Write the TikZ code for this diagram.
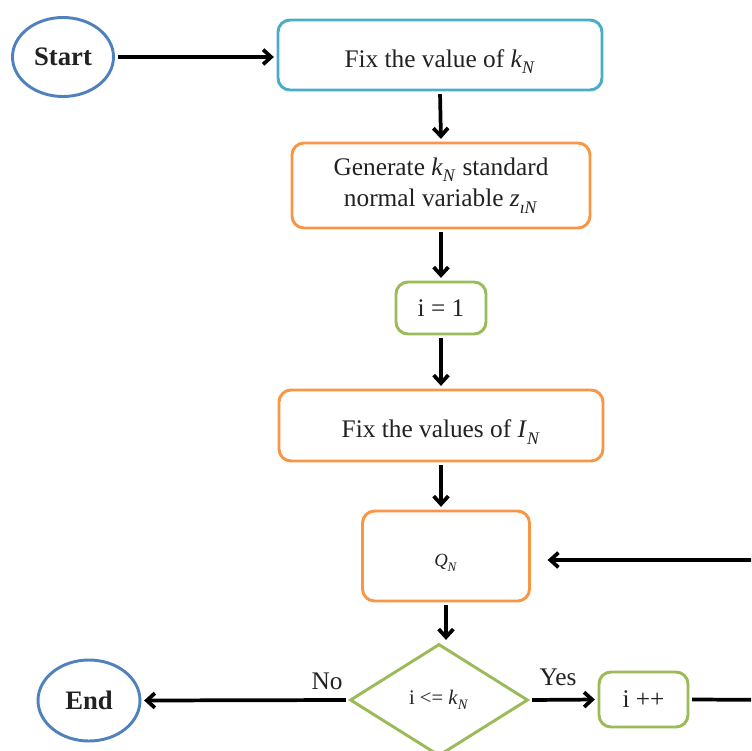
\documentclass[tikz,border=0pt]{standalone}
\usepackage{fontspec}
\setmainfont{Liberation Serif}
\usetikzlibrary{shapes.geometric,arrows.meta}
\def\pxu{0.75pt}
\newcommand\vr[2]{\textit{#1}\raisebox{-2pt}{\textsubscript{\textit{#2}}}}
\newcommand\low[1]{\raisebox{-5pt}[\height][\depth]{#1}}
\definecolor{cyanb}{HTML}{4BACC6}
\definecolor{orangeb}{HTML}{F79646}
\definecolor{greenb}{HTML}{9BBB59}
\definecolor{blueb}{HTML}{4F81BD}
\definecolor{txt}{HTML}{222222}
\tikzset{
  box/.style={draw, rounded corners=9pt, line width=2.2pt, inner sep=0pt, align=center,
    fill=white, text=txt, font=\fontsize{19}{23.5}\selectfont},
  term/.style={draw=blueb, ellipse, line width=2.2pt, inner sep=0pt, text=txt,
    font=\fontsize{20}{22}\selectfont\bfseries},
  arr/.style={draw=black, line width=2.8pt, -{Straight Barb[length=6pt,width=11pt]},
    shorten >=2pt, shorten <=2pt},
  lab/.style={text=txt, font=\fontsize{19}{22}\selectfont}
}
\begin{document}
\begin{tikzpicture}[x=0.75pt, y=-0.75pt]
\useasboundingbox (0,0) rectangle (751,751);
\clip (0,0) rectangle (751,751);
\node[term, minimum width=101*\pxu, minimum height=79*\pxu] (start) at (63,57) {Start};
\node[box, draw=cyanb, minimum width=324*\pxu, minimum height=70*\pxu] (b1) at (440,55) {\low{Fix the value of \vr{k}{N}}};
\node[box, draw=orangeb, minimum width=298*\pxu, minimum height=85*\pxu] (b2) at (441,185.5) {Generate \vr{k}{N} standard\\normal variable \vr{z}{ıN}};
\node[box, draw=greenb, minimum width=90*\pxu, minimum height=52*\pxu] (b3) at (441,308) {i = 1};
\node[box, draw=orangeb, minimum width=324*\pxu, minimum height=71*\pxu] (b4) at (441,425.5) {\low{Fix the values of \vr{I}{N}}};
\node[box, draw=orangeb, minimum width=167*\pxu, minimum height=90*\pxu, font=\fontsize{14}{16}\selectfont] (qn) at (446,556) {\low{\vr{Q}{N}}};
\node[draw=greenb, diamond, line width=2.2pt, inner sep=0pt, fill=white, text=txt,
  minimum width=178*\pxu, minimum height=112*\pxu, font=\fontsize{15.5}{17}\selectfont] (dec) at (439,700) {i <= \vr{k}{N}};
\node[term, minimum width=102*\pxu, minimum height=81*\pxu] (end) at (89,700.5) {End};
\node[box, draw=greenb, minimum width=89*\pxu, minimum height=55*\pxu] (ipp) at (643.5,699.5) {i ++};
\node[lab] (no) at (327,681) {No};
\node[lab] (yes) at (558,677) {Yes};
\coordinate (r1) at (800,700);
\coordinate (r2) at (800,560);
\coordinate (qin) at (529,560);
\draw[arr] (start.east) -- (start.east -| b1.west);
\draw[arr] (b1.south) -- (b2.north);
\draw[arr] (b2.south) -- (b3.north);
\draw[arr] (b3.south) -- (b4.north);
\draw[arr] (b4.south) -- (b4.south |- qn.north);
\draw[arr] (qn.south) -- (qn.south |- dec.north);
\draw[arr] (dec.west) -- (end.east);
\draw[arr] (dec.east) -- (ipp.west);
\draw[arr, shorten >=14pt] (ipp.east) -- (r1) -- (r2) -- (qin);
\end{tikzpicture}
\end{document}
